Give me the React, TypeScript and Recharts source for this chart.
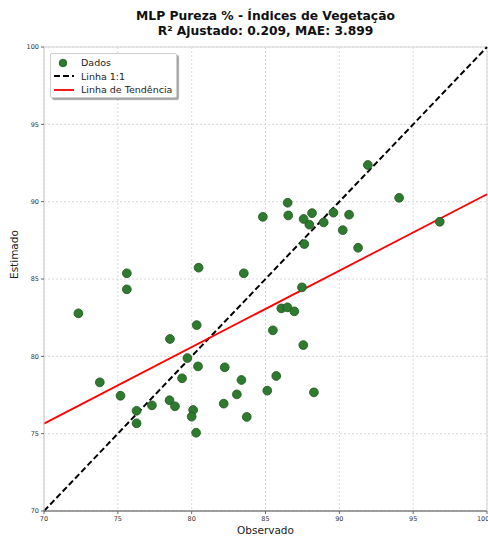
import React from "react";
import {
  ScatterChart,
  Scatter,
  XAxis,
  YAxis,
  CartesianGrid,
  ReferenceLine,
  ReferenceArea,
  Legend,
} from "recharts";

// Observed vs. estimated purity values
const observado = [
  72.33, 73.78, 75.18, 75.61, 75.61, 76.27, 76.27, 77.31, 78.53, 78.5,
  78.87, 79.35, 79.71, 80.1, 80.0, 80.3, 80.34, 80.43, 80.47, 82.24,
  82.17, 83.06, 83.37, 83.53, 83.73, 84.82, 85.12, 85.73, 85.5, 86.07,
  86.48, 86.5, 86.54, 86.95, 87.47, 87.56, 87.58, 87.63, 87.97, 88.15,
  88.28, 88.94, 89.6, 90.23, 90.66, 91.27, 91.93, 94.05, 96.8,
];
const estimado = [
  82.78, 78.32, 77.45, 85.37, 84.33, 76.48, 75.67, 76.83, 81.12, 77.16,
  76.77, 78.58, 79.89, 76.53, 76.1, 75.06, 82.02, 79.35, 85.73, 79.29,
  76.94, 77.54, 78.47, 85.37, 76.08, 89.02, 77.78, 78.73, 81.68, 83.1,
  83.17, 89.93, 89.11, 82.91, 84.46, 80.73, 88.88, 87.26, 88.51, 89.26,
  77.67, 88.66, 89.29, 88.16, 89.16, 87.02, 92.37, 90.25, 88.7,
];

// Reference lines (endpoints)
const linhaIdentidade = [
  { x: 70, y: 70 },
  { x: 100, y: 100 },
];
const linhaTendencia = [
  { x: 70, y: 75.65 },
  { x: 100, y: 90.48 },
];

const ticks = [70, 75, 80, 85, 90, 95, 100];
const titulo = "MLP Pureza % - Índices de Vegetação";
const subtitulo = "R² Ajustado: 0.209, MAE: 3.899";
const legendLabels = ["Dados", "Linha 1:1", "Linha de Tendência"];

const pontos = observado.map((x, i) => ({ x, y: estimado[i] }));

const FONT = "'DejaVu Sans', sans-serif";
const GREEN = "#2e7a2e";

const Dot = (props: any) => {
  const { cx, cy } = props;
  return <circle cx={cx} cy={cy} r={4.4} fill={GREEN} stroke="#1f551f" strokeWidth={0.8} />;
};

const LegendBox = () => (
  <div
    style={{
      width: 127,
      height: 45,
      background: "#fff",
      border: "1px solid #cfcfcf",
      borderRadius: 2,
      boxShadow: "2px 2px 1px rgba(0,0,0,0.35)",
      fontFamily: FONT,
      fontSize: 9.5,
      color: "#222",
      boxSizing: "border-box",
      padding: "2px 0 0 0",
    }}
  >
    {legendLabels.map((label, i) => (
      <div key={label} style={{ display: "flex", alignItems: "center", height: 13.5 }}>
        <svg width={30} height={12} style={{ flex: "none" }}>
          {i === 0 && <circle cx={12} cy={6} r={3.8} fill={GREEN} stroke="#1f551f" strokeWidth={0.8} />}
          {i === 1 && (
            <line x1={3} y1={6} x2={23} y2={6} stroke="#000" strokeWidth={2} strokeDasharray="6 3" />
          )}
          {i === 2 && <line x1={3} y1={6} x2={23} y2={6} stroke="#ff0000" strokeWidth={1.8} />}
        </svg>
        <span>{label}</span>
      </div>
    ))}
  </div>
);

export default function App() {
  return (
    <div style={{ position: "absolute", left: 0, top: 0, width: 488, height: 541, background: "#fff" }}>
      <div
        style={{
          position: "absolute",
          left: 0,
          width: 531,
          top: 9,
          textAlign: "center",
          fontFamily: FONT,
          fontWeight: "bold",
          fontSize: 12.3,
          lineHeight: "14.5px",
          color: "#111",
        }}
      >
        <div>{titulo}</div>
        <div>{subtitulo}</div>
      </div>
      <ScatterChart
        width={488}
        height={541}
        margin={{ top: 47, right: 1, bottom: 10, left: 0 }}
        style={{ position: "absolute", left: 0, top: 0 }}
      >
        <CartesianGrid stroke="#cfcfcf" strokeDasharray="2 2" strokeWidth={0.8} />
        <ReferenceArea x1={70} x2={100} y1={70} y2={100} fill="none" stroke="#d6d6d6" strokeWidth={1} ifOverflow="visible" />
        <XAxis
          type="number"
          dataKey="x"
          domain={[70, 100]}
          ticks={ticks}
          allowDataOverflow
          height={20}
          tick={{ fontSize: 6.5, fill: "#333", fontFamily: FONT }}
          tickSize={3}
          tickLine={{ stroke: "#666" }}
          axisLine={{ stroke: "#555", strokeWidth: 1 }}
          label={{ value: "Observado", position: "insideBottom", offset: -3, fontSize: 10.5, fill: "#222", fontFamily: FONT }}
        />
        <YAxis
          type="number"
          dataKey="y"
          domain={[70, 100]}
          ticks={ticks}
          allowDataOverflow
          width={44}
          tick={{ fontSize: 6.5, fill: "#333", fontFamily: FONT }}
          tickSize={3}
          tickLine={{ stroke: "#666" }}
          axisLine={{ stroke: "#d6d6d6", strokeWidth: 1 }}
          label={{ value: "Estimado", angle: -90, position: "insideLeft", offset: 14, fontSize: 10.5, fill: "#222", fontFamily: FONT }}
        />
        <Scatter data={pontos} shape={<Dot />} isAnimationActive={false} />
        <ReferenceLine
          segment={linhaIdentidade}
          stroke="#000"
          strokeWidth={2}
          strokeDasharray="6 3"
          ifOverflow="visible"
        />
        <ReferenceLine segment={linhaTendencia} stroke="#ff0000" strokeWidth={1.8} ifOverflow="visible" />
        <Legend
          layout="vertical"
          align="center"
          verticalAlign="middle"
          wrapperStyle={{ left: 50, top: 53, width: 127 }}
          content={() => <LegendBox />}
        />
      </ScatterChart>
    </div>
  );
}
